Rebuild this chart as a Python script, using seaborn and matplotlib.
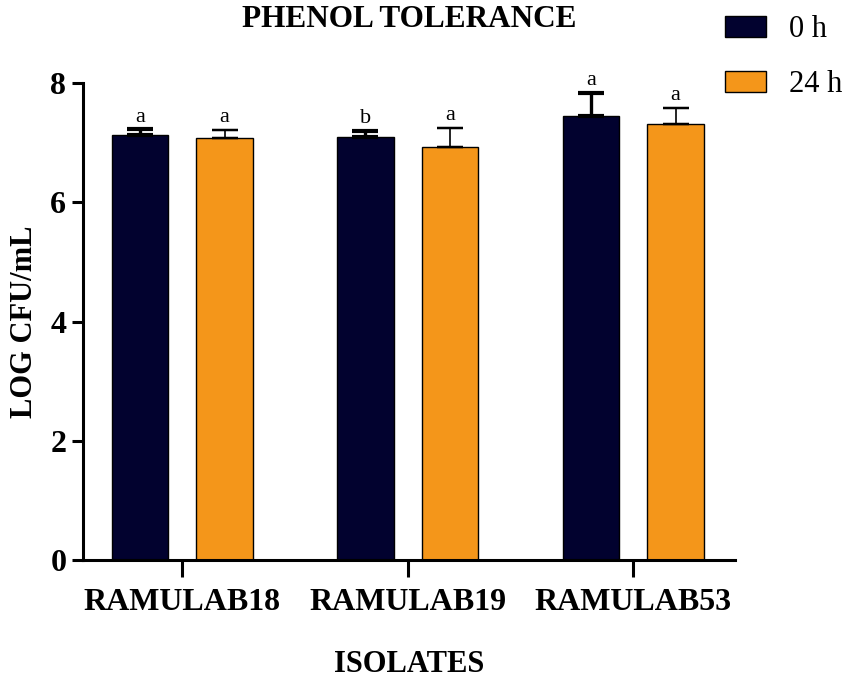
import pandas as pd
import matplotlib.pyplot as plt
import seaborn as sns
from matplotlib.patches import Patch

isolates = ['RAMULAB18', 'RAMULAB19', 'RAMULAB53']
times = ['0 h', '24 h']
mean_0h = [7.12, 7.09, 7.44]
mean_24h = [7.07, 6.93, 7.32]
sd_0h = [0.10, 0.11, 0.39]
sd_24h = [0.14, 0.32, 0.26]
letters_0h = ['a', 'b', 'a']
letters_24h = ['a', 'a', 'a']

navy = '#02022f'
orange = '#f4961a'

df = pd.DataFrame({
    'isolate': isolates * 2,
    'time': [times[0]] * 3 + [times[1]] * 3,
    'log': mean_0h + mean_24h,
})

sns.set_style('ticks')
plt.rcParams['font.family'] = ['Liberation Serif', 'DejaVu Serif']
for k in ['text.color', 'axes.labelcolor', 'xtick.color', 'ytick.color', 'axes.edgecolor']:
    plt.rcParams[k] = 'black'

fig = plt.figure(figsize=(8.51, 6.83), dpi=100)
ax = fig.add_axes([0.0975, 0.18, 0.766, 0.6985])

sns.barplot(data=df, x='isolate', y='log', hue='time', palette=[navy, orange],
            saturation=1, width=0.75, gap=0.33, edgecolor='black', linewidth=1,
            errorbar=None, legend=False, ax=ax)

# upward-only error bars + significance letters
errs = [sd_0h, sd_24h]
letters = [letters_0h, letters_24h]
widths = [2.4, 1.2]
bar_groups = list(ax.containers)
for i, cont in enumerate(bar_groups):
    for j, bar in enumerate(cont.patches):
        x = bar.get_x() + bar.get_width() / 2
        h = bar.get_height()
        ax.errorbar(x, h, yerr=[[0], [errs[i][j]]], fmt='none', ecolor='black',
                    elinewidth=widths[i], capsize=9.5, capthick=widths[i] + 0.6,
                    zorder=1)
        ax.annotate(letters[i][j], (x, h + errs[i][j]), xytext=(0, 2),
                    textcoords='offset points', ha='center', va='bottom',
                    fontsize=16)

ax.set_xlim(-0.44, 2.45)
ax.set_ylim(0, 8)
ax.set_yticks([0, 2, 4, 6, 8])
sns.despine(ax=ax)
for s in ['left', 'bottom']:
    ax.spines[s].set_linewidth(2.2)
ax.tick_params(axis='x', length=12, width=2.2, pad=8, labelsize=23)
ax.tick_params(axis='y', length=8, width=2.2, pad=4, labelsize=23)
for lab in ax.get_xticklabels() + ax.get_yticklabels():
    lab.set_fontweight('bold')

ax.set_xlabel('ISOLATES', fontsize=22, fontweight='bold', labelpad=24)
ax.set_ylabel('LOG CFU/mL', fontsize=22, fontweight='bold', labelpad=8)
ax.set_title('PHENOL TOLERANCE', fontsize=22.5, fontweight='bold', pad=40)

handles = [Patch(facecolor=navy, edgecolor='black', linewidth=1),
           Patch(facecolor=orange, edgecolor='black', linewidth=1)]
fig.legend(handles, times, loc='upper left', bbox_to_anchor=(0.834, 1.0),
           frameon=False, fontsize=22, handlelength=1.35, handleheight=0.65,
           handletextpad=0.75, labelspacing=0.85, borderpad=0)

fig.savefig('out.png', dpi=100)
